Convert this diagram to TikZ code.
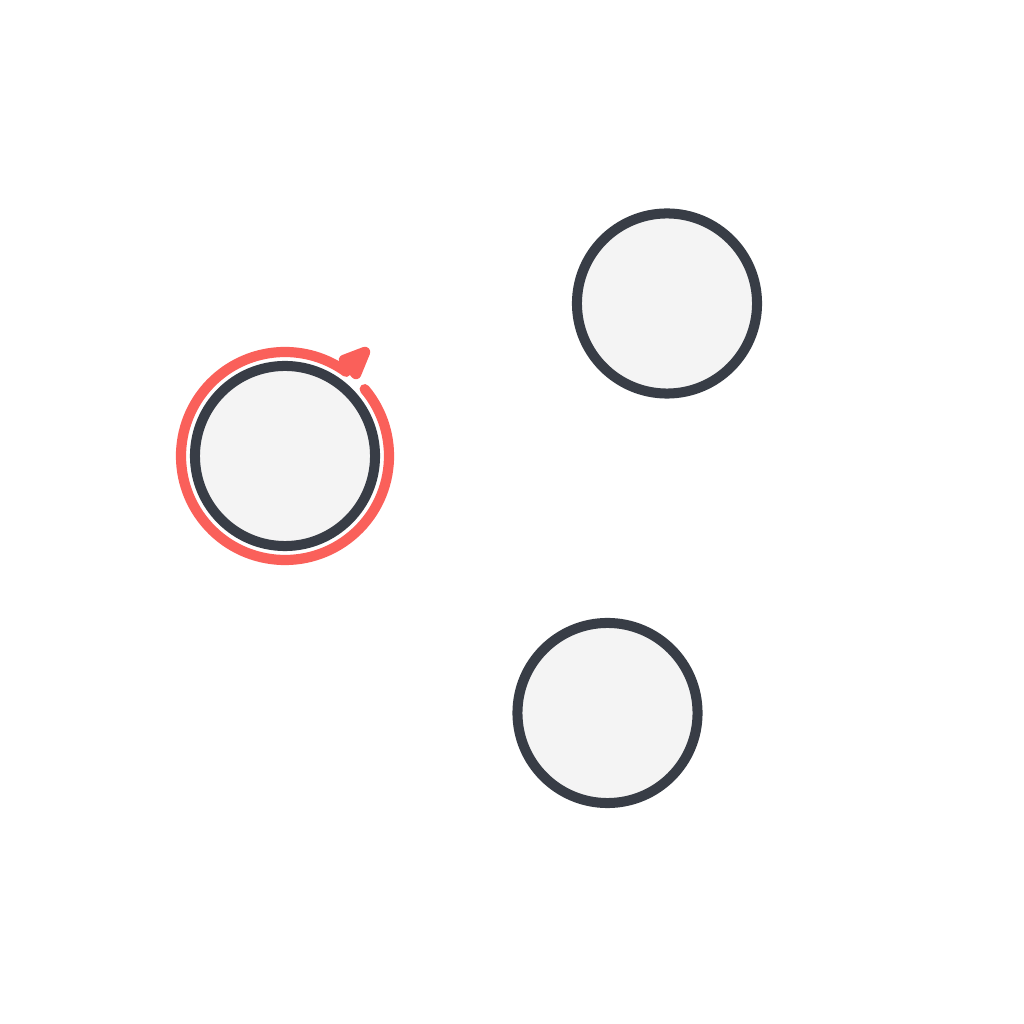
\documentclass[tikz,border=0pt]{standalone}
\usepackage{xcolor}
\usepackage{tikz}
\usetikzlibrary{calc}
\definecolor{ringslate}{RGB}{56, 61, 70}
\definecolor{nodefill}{RGB}{244, 244, 244}
\definecolor{loopcoral}{RGB}{250, 96, 90}

\begin{document}
\begin{tikzpicture}[x=0.01cm, y=0.01cm,
    statenode/.style={circle, draw=ringslate, fill=nodefill, line width=2.85pt, minimum size=1.8cm, inner sep=0pt},
    selfloop/.style={draw=loopcoral, line width=2.9pt, line cap=round},
    loophead/.style={draw=loopcoral, fill=loopcoral, line width=3pt, line join=round}
]
    \useasboundingbox (0, 0) rectangle (1024, 1024);

    \node[statenode] (q0) at (285, 568) {};
    \node[statenode] (q1) at (667, 720.5) {};
    \node[statenode] (q2) at (607.5, 311) {};

    % self loop on q0
    \draw[selfloop] ($(q0)+(40:104)$) arc[start angle=40, end angle=-306, radius=104];
    \filldraw[loophead] ($(q0)+(59,96)$) -- ($(q0)+(80,104)$) -- ($(q0)+(71,82)$) -- cycle;
\end{tikzpicture}
\end{document}
